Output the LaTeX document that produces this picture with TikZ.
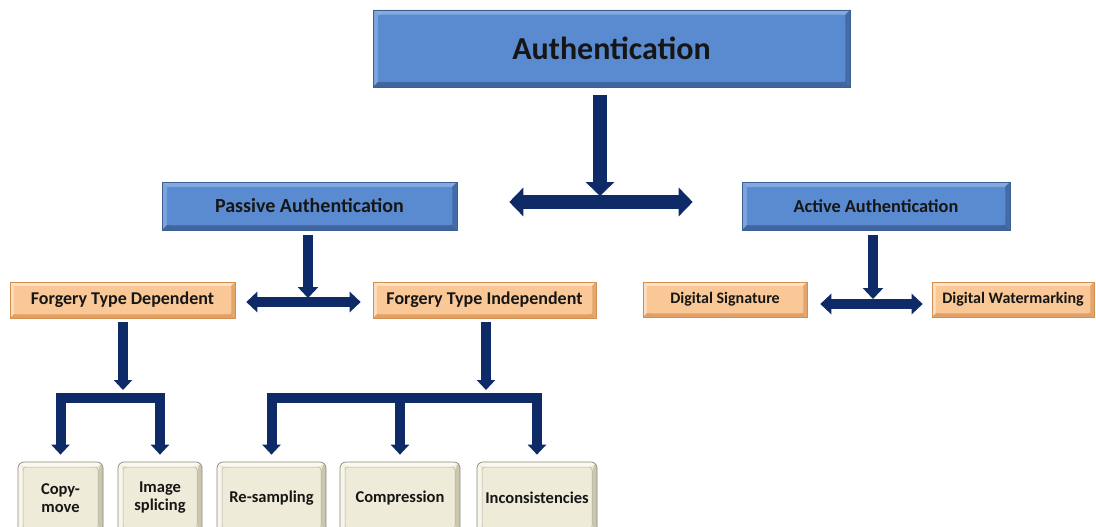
\documentclass[tikz,border=0pt]{standalone}
\usepackage{fontspec}
\setmainfont{Carlito}
\usetikzlibrary{arrows.meta}

\definecolor{navy}{HTML}{0E2A67}
\definecolor{txt}{HTML}{161616}
% blue bevel boxes
\definecolor{bfill}{HTML}{5A8BD0}
\definecolor{blight}{HTML}{86AADF}
\definecolor{bdark}{HTML}{3F659E}
\definecolor{bline}{HTML}{3C5F94}
% peach bevel boxes
\definecolor{pfill}{HTML}{FAC796}
\definecolor{plight}{HTML}{FDE3C6}
\definecolor{pdark}{HTML}{E2A066}
\definecolor{pline}{HTML}{D19050}
% beige bevel boxes
\definecolor{gfill}{HTML}{EEEBD8}
\definecolor{glight}{HTML}{FAF9F1}
\definecolor{gdark}{HTML}{C4C0A8}
\definecolor{gline}{HTML}{8C8977}

\tikzset{
  % bevelled box: #1 fill, #2 light rim, #3 dark rim, #4 rim width, #5 inner frame colour
  bevelbox/.style n args={5}{
    fill=#1, inner sep=0pt, text=txt, font=\bfseries, align=center,
    path picture={
      \path (path picture bounding box.north west) coordinate (bNW)
            (path picture bounding box.north east) coordinate (bNE)
            (path picture bounding box.south west) coordinate (bSW)
            (path picture bounding box.south east) coordinate (bSE);
      \fill[#2] (bNW) -- (bNE) -- ([shift={(-#4,-#4)}]bNE) -- ([shift={(#4,-#4)}]bNW) -- cycle;
      \fill[#2!80!#1] (bNW) -- ([shift={(#4,-#4)}]bNW) -- ([shift={(#4,#4)}]bSW) -- (bSW) -- cycle;
      \fill[#3] (bSW) -- (bSE) -- ([shift={(-#4,#4)}]bSE) -- ([shift={(#4,#4)}]bSW) -- cycle;
      \fill[#3!85!#1] (bNE) -- (bSE) -- ([shift={(-#4,#4)}]bSE) -- ([shift={(-#4,-#4)}]bNE) -- cycle;
      \draw[#5, line width=0.5pt, rounded corners=3pt]
        ([shift={(#4,-#4)}]bNW) rectangle ([shift={(-#4,#4)}]bSE);
    }
  },
  bluebox/.style={bevelbox={bfill}{blight}{bdark}{5pt}{bfill}, draw=bline, line width=0.6pt},
  peachbox/.style={bevelbox={pfill}{plight}{pdark}{4pt}{pfill}, draw=pline, line width=0.6pt,
    minimum height=36pt, font=\bfseries\fontsize{18}{20}\selectfont},
  beigebox/.style={bevelbox={gfill}{glight}{gdark}{5pt}{gline!60!gfill}, draw=gline, line width=0.7pt,
    rounded corners=6pt, minimum height=72pt, font=\bfseries\fontsize{16.5}{18}\selectfont},
  % connector styles
  shaftA/.style={draw=navy, line width=14pt, line join=miter},
  shaftB/.style={draw=navy, line width=10pt, line join=miter},
  tipA/.style={-{Triangle[width=28pt,length=14pt]}},
  bothA/.style={{Triangle[width=28pt,length=14pt]}-{Triangle[width=28pt,length=14pt]}},
  tipB/.style={-{Triangle[width=20pt,length=11pt]}},
  bothB/.style={{Triangle[width=20pt,length=11pt]}-{Triangle[width=20pt,length=11pt]}},
  tipC/.style={-{Triangle[width=18pt,length=10pt]}},
  bothC/.style={{Triangle[width=18pt,length=10pt]}-{Triangle[width=18pt,length=10pt]}},
}

\begin{document}
\begin{tikzpicture}[x=1pt, y=-1pt]
  \useasboundingbox[fill=white] (0,0) rectangle (1096,527);
  \clip (0,0) rectangle (1096,527);

  % top level
  \node[bluebox, minimum width=477pt, minimum height=77pt,
        font=\bfseries\fontsize{32}{36}\selectfont] (auth) at (611.5,48.5) {Authentication};

  % second level
  \node[bluebox, minimum width=295pt, minimum height=48pt,
        font=\bfseries\fontsize{20}{24}\selectfont] (pa) at (309.5,206) {Passive Authentication};
  \node[bluebox, minimum width=268pt, minimum height=48pt,
        font=\bfseries\fontsize{18.3}{22}\selectfont] (aa) at (876,206) {Active Authentication};

  % third level
  \node[peachbox, minimum width=225pt] (ftd) at (122.5,300) {Forgery Type Dependent};
  \node[peachbox, minimum width=223pt] (fti) at (484.5,300) {Forgery Type Independent};
  \node[peachbox, minimum width=164pt, minimum height=35pt,
        font=\bfseries\fontsize{16}{19}\selectfont] (ds) at (725,299.5) {Digital Signature};
  \node[peachbox, minimum width=162pt, minimum height=35pt,
        font=\bfseries\fontsize{16}{19}\selectfont] (dw) at (1013,299.5) {Digital Watermarking};

  % bottom level (runs past the lower edge)
  \node[beigebox, minimum width=85pt]  (cm)  at (60.5,498)  {Copy-\\move};
  \node[beigebox, minimum width=84pt]  (is)  at (160,498)   {Image\\splicing};
  \node[beigebox, minimum width=109pt] (rs)  at (271.5,498) {Re-sampling};
  \node[beigebox, minimum width=120pt] (cp)  at (400,498)   {Compression};
  \node[beigebox, minimum width=120pt] (inc) at (537,498)   {Inconsistencies};

  % junction points
  \coordinate (j0) at (600,202);
  \coordinate (j1) at (308,302);
  \coordinate (j2) at (873,304);
  \coordinate (b1) at (123,398);
  \coordinate (b2) at (486,398);

  % Authentication -> Passive / Active
  \draw[shaftA, tipA, shorten <=8pt, shorten >=6pt] (auth.south -| j0) -- (j0);
  \draw[shaftA, bothA, shorten <=52pt, shorten >=49pt] (pa.east |- j0) -- (aa.west |- j0);

  % Passive -> forgery type dependent / independent
  \draw[shaftB, tipB, shorten <=5pt, shorten >=4pt] (pa.south -| j1) -- (j1);
  \draw[shaftB, bothB, shorten <=11pt, shorten >=12pt] (ftd.east |- j1) -- (fti.west |- j1);

  % Active -> signature / watermarking
  \draw[shaftB, tipB, shorten <=5pt, shorten >=5pt] (aa.south -| j2) -- (j2);
  \draw[shaftB, bothB, shorten <=13pt, shorten >=9pt] (ds.east |- j2) -- (dw.west |- j2);

  % Forgery type dependent -> copy-move / image splicing
  \draw[shaftB, tipC, shorten <=4pt, shorten >=8pt] (ftd.south -| b1) -- (b1);
  \draw[shaftB, bothC, shorten <=7pt, shorten >=7pt] (cm.north) |- (b1) -| (is.north);

  % Forgery type independent -> re-sampling / compression / inconsistencies
  \draw[shaftB, tipC, shorten <=4pt, shorten >=8pt] (fti.south -| b2) -- (b2);
  \draw[shaftB, bothC, shorten <=7pt, shorten >=7pt] (rs.north) |- (b2) -| (inc.north);
  \draw[shaftB, tipC, shorten >=7pt] (cp.north |- b2) -- (cp.north);
\end{tikzpicture}
\end{document}
